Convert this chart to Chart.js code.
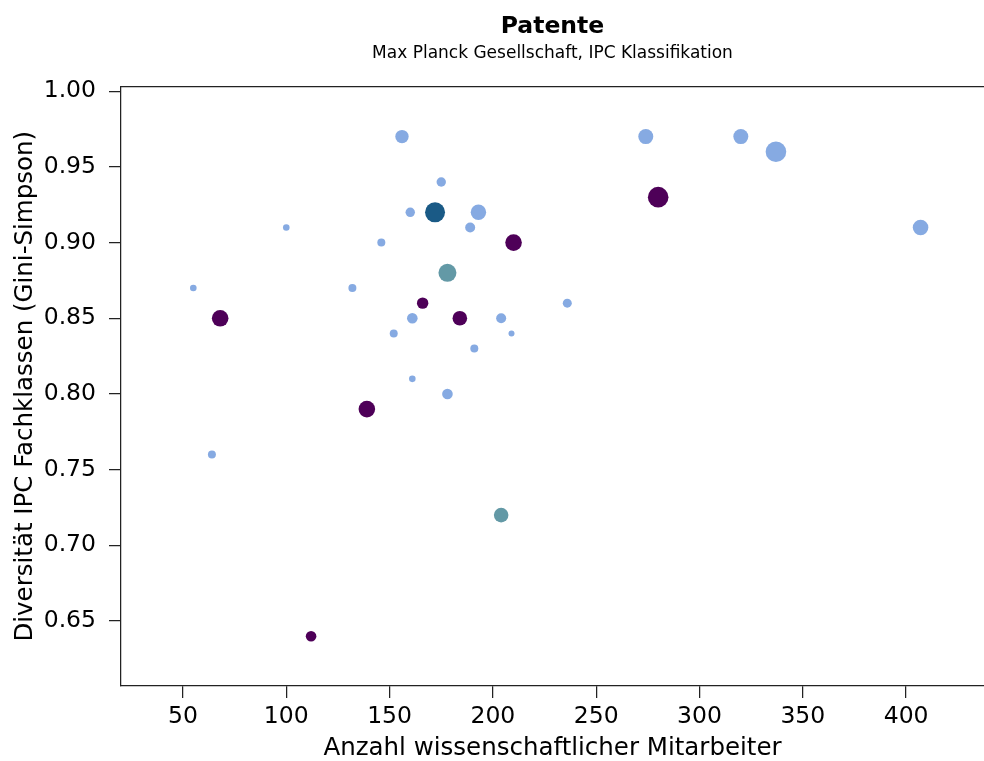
<!DOCTYPE html>
<html>
<head>
<meta charset="utf-8">
<title>Patente</title>
<script src="https://cdn.jsdelivr.net/npm/chart.js@4.4.1/dist/chart.umd.min.js"></script>
<style>
  html, body { margin: 0; padding: 0; background: #fff; overflow: hidden; }
  #wrap { width: 984px; height: 761px; }
</style>
</head>
<body>
<div id="wrap"><canvas id="myChart" width="984" height="761"></canvas></div>
<script>
// Patente je Institut: x = Anzahl wiss. Mitarbeiter, y = Gini-Simpson, r = Punktgroesse
const xTicks = [50, 100, 150, 200, 250, 300, 350, 400];
const yTicks = [0.65, 0.70, 0.75, 0.80, 0.85, 0.90, 0.95, 1.00];

const blueX = [156, 175, 160, 193, 189, 146, 100, 55, 132, 161, 152, 204, 236, 209, 191, 161, 178, 64, 274, 320, 337, 407];
const blueY = [0.97, 0.94, 0.92, 0.92, 0.91, 0.90, 0.91, 0.87, 0.87, 0.85, 0.84, 0.85, 0.86, 0.84, 0.83, 0.81, 0.80, 0.76, 0.97, 0.97, 0.96, 0.91];
const blueR = [6.7, 4.7, 4.7, 7.7, 5, 4, 3.3, 3.3, 4, 5.3, 4, 5, 4.5, 3, 4, 3.3, 5.3, 4, 7.5, 7.5, 10.3, 7.8];

const purpleX = [68, 166, 184, 210, 280, 139, 112];
const purpleY = [0.85, 0.86, 0.85, 0.90, 0.93, 0.79, 0.64];
const purpleR = [8.3, 5.7, 7.3, 8.3, 10.3, 8.3, 5.3];

const tealX = [178, 204];
const tealY = [0.88, 0.72];
const tealR = [9, 7.3];

const navyX = [172];
const navyY = [0.92];
const navyR = [10];

const font = "'DejaVu Sans', sans-serif";

function pts(xs, ys, rs) {
  return xs.map((x, i) => ({ x: x, y: ys[i], r: rs[i] }));
}

const topSpine = {
  id: 'topSpine',
  afterDraw(chart) {
    const { ctx, chartArea } = chart;
    ctx.save();
    ctx.strokeStyle = '#222';
    ctx.lineWidth = 1.25;
    ctx.beginPath();
    ctx.moveTo(chartArea.left, chartArea.top);
    ctx.lineTo(chartArea.right, chartArea.top);
    ctx.stroke();
    ctx.restore();
  }
};

const ctx = document.getElementById('myChart');
new Chart(ctx, {
  type: 'bubble',
  data: {
    datasets: [
      { label: 'A', data: pts(blueX, blueY, blueR), backgroundColor: '#86aae2' },
      { label: 'B', data: pts(purpleX, purpleY, purpleR), backgroundColor: '#4e0058' },
      { label: 'C', data: pts(tealX, tealY, tealR), backgroundColor: '#6399a6' },
      { label: 'D', data: pts(navyX, navyY, navyR), backgroundColor: '#1a5a86' }
    ]
  },
  options: {
    responsive: false,
    animation: false,
    layout: { padding: 0, autoPadding: false },
    elements: { point: { borderWidth: 0, hoverBorderWidth: 0 } },
    plugins: {
      legend: { display: false },
      tooltip: { enabled: false },
      title: {
        display: true,
        text: 'Patente',
        fullSize: false,
        color: '#000',
        font: { family: font, size: 23.5, weight: 'bold' },
        padding: { top: 12.9, bottom: 2.7 }
      },
      subtitle: {
        display: true,
        text: 'Max Planck Gesellschaft, IPC Klassifikation',
        fullSize: false,
        color: '#000',
        font: { family: font, size: 17 },
        padding: { top: 0, bottom: 22.3 }
      }
    },
    scales: {
      x: {
        type: 'linear',
        min: 20,
        max: 437.7,
        afterBuildTicks: (axis) => { axis.ticks = xTicks.map(v => ({ value: v })); },
        afterFit: (axis) => { axis.height = 75; axis.paddingLeft = 0; axis.paddingRight = 0; },
        grid: { display: true, drawOnChartArea: false, drawTicks: true, tickLength: 12, color: '#222', lineWidth: 1.25 },
        border: { display: true, color: '#222', width: 1.25 },
        ticks: { color: '#000', font: { family: font, size: 23.5 }, padding: 5, maxRotation: 0 },
        title: {
          display: true,
          text: 'Anzahl wissenschaftlicher Mitarbeiter',
          color: '#000',
          font: { family: font, size: 24.5 },
          padding: { top: 0, bottom: -2 }
        }
      },
      y: {
        type: 'linear',
        min: 0.6071,
        max: 1.0031,
        afterBuildTicks: (axis) => { axis.ticks = yTicks.map(v => ({ value: v })); },
        afterFit: (axis) => { axis.width = 121; axis.paddingTop = 0; axis.paddingBottom = 0; },
        grid: { display: true, drawOnChartArea: false, drawTicks: true, tickLength: 12, color: '#222', lineWidth: 1.25 },
        border: { display: true, color: '#222', width: 1.25 },
        ticks: { color: '#000', font: { family: font, size: 23.5 }, padding: 13, callback: (v) => v.toFixed(2) },
        title: {
          display: true,
          text: 'Diversität IPC Fachklassen (Gini-Simpson)',
          color: '#000',
          font: { family: font, size: 24.5 },
          padding: { top: 11.3, bottom: 0 }
        }
      }
    }
  },
  plugins: [topSpine]
});
</script>
</body>
</html>
